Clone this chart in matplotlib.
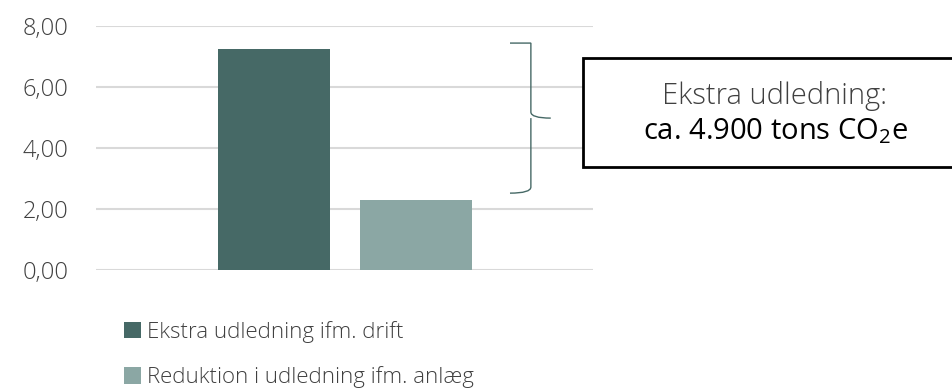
import matplotlib.pyplot as plt
from matplotlib.path import Path
from matplotlib.patches import PathPatch

series = ['Ekstra udledning ifm. drift', 'Reduktion i udledning ifm. anlæg']
values = [7.25, 2.30]
colors = ['#466966', '#8ba7a4']
yticks = [0, 2, 4, 6, 8]
ytick_labels = ['0,00', '2,00', '4,00', '6,00', '8,00']
box_line1 = 'Ekstra udledning:'
box_line2 = r'ca. 4.900 tons CO$_\mathregular{2}$e'
brace_top, brace_bottom = 7.44, 2.52

plt.rcParams['font.family'] = ['Open Sans', 'DejaVu Sans']
plt.rcParams['mathtext.default'] = 'regular'

fig = plt.figure(figsize=(9.53, 3.92), dpi=100)
ax = fig.add_axes([96 / 953, 1 - 270 / 392, 497 / 953, 244 / 392])

xpos = [-0.142, 0.144]
bars = []
for x, v, c, name in zip(xpos, values, colors, series):
    bars.append(ax.bar(x, v, width=0.225, color=c, label=name, zorder=3))

ax.set_xlim(-0.5, 0.5)
ax.set_ylim(0, 8)
ax.set_yticks(yticks)
ax.set_yticklabels(ytick_labels, fontsize=17, color='#404040', fontweight='light')
ax.set_xticks([])
ax.tick_params(axis='y', length=0, pad=20)
ax.grid(axis='y', color='#d9d9d9', linewidth=1.5, zorder=0)
for s in ax.spines.values():
    s.set_visible(False)

# curly brace to the right of the bars
bx0, bx1, bx2 = 0.333, 0.375, 0.415
mid = (brace_top + brace_bottom) / 2
verts = [(bx0, brace_top), (bx1, brace_top), (bx1, brace_top), (bx1, brace_top - 0.2),
         (bx1, mid + 0.2), (bx1, mid), (bx2, mid),
         (bx1, mid), (bx1, mid - 0.2),
         (bx1, brace_bottom + 0.2), (bx1, brace_bottom), (bx0, brace_bottom)]
codes = [Path.MOVETO, Path.CURVE3, Path.CURVE3, Path.LINETO,
         Path.LINETO, Path.CURVE3, Path.CURVE3,
         Path.MOVETO, Path.CURVE3,
         Path.LINETO, Path.CURVE3, Path.CURVE3]
brace = PathPatch(Path(verts, codes), facecolor='none', edgecolor='#466966',
                  linewidth=1, clip_on=False, zorder=4)
ax.add_patch(brace)

# text box (runs past the right edge of the figure)
box = plt.Rectangle((583 / 953, 1 - 167 / 392), 384 / 953, 109 / 392,
                    transform=fig.transFigure, facecolor='white',
                    edgecolor='black', linewidth=2, zorder=5)
fig.patches.append(box)
cx = 775 / 953
fig.text(cx, 1 - 96 / 392, box_line1, ha='center', va='center',
         fontsize=21, color='#404040', fontweight='light', zorder=6)
fig.text(cx, 1 - 131 / 392, box_line2, ha='center', va='center',
         fontsize=21, color='#000000', zorder=6)

fig.legend(handles=[b[0] for b in bars], labels=series, loc='upper left',
           bbox_to_anchor=(115 / 953, 1 - 312 / 392), frameon=False,
           handlelength=0.75, handleheight=0.75, handletextpad=0.3,
           labelspacing=1.05, labelcolor='#404040', borderaxespad=0,
           prop={'weight': 'light', 'size': 16})

fig.savefig('out.png', dpi=100)
